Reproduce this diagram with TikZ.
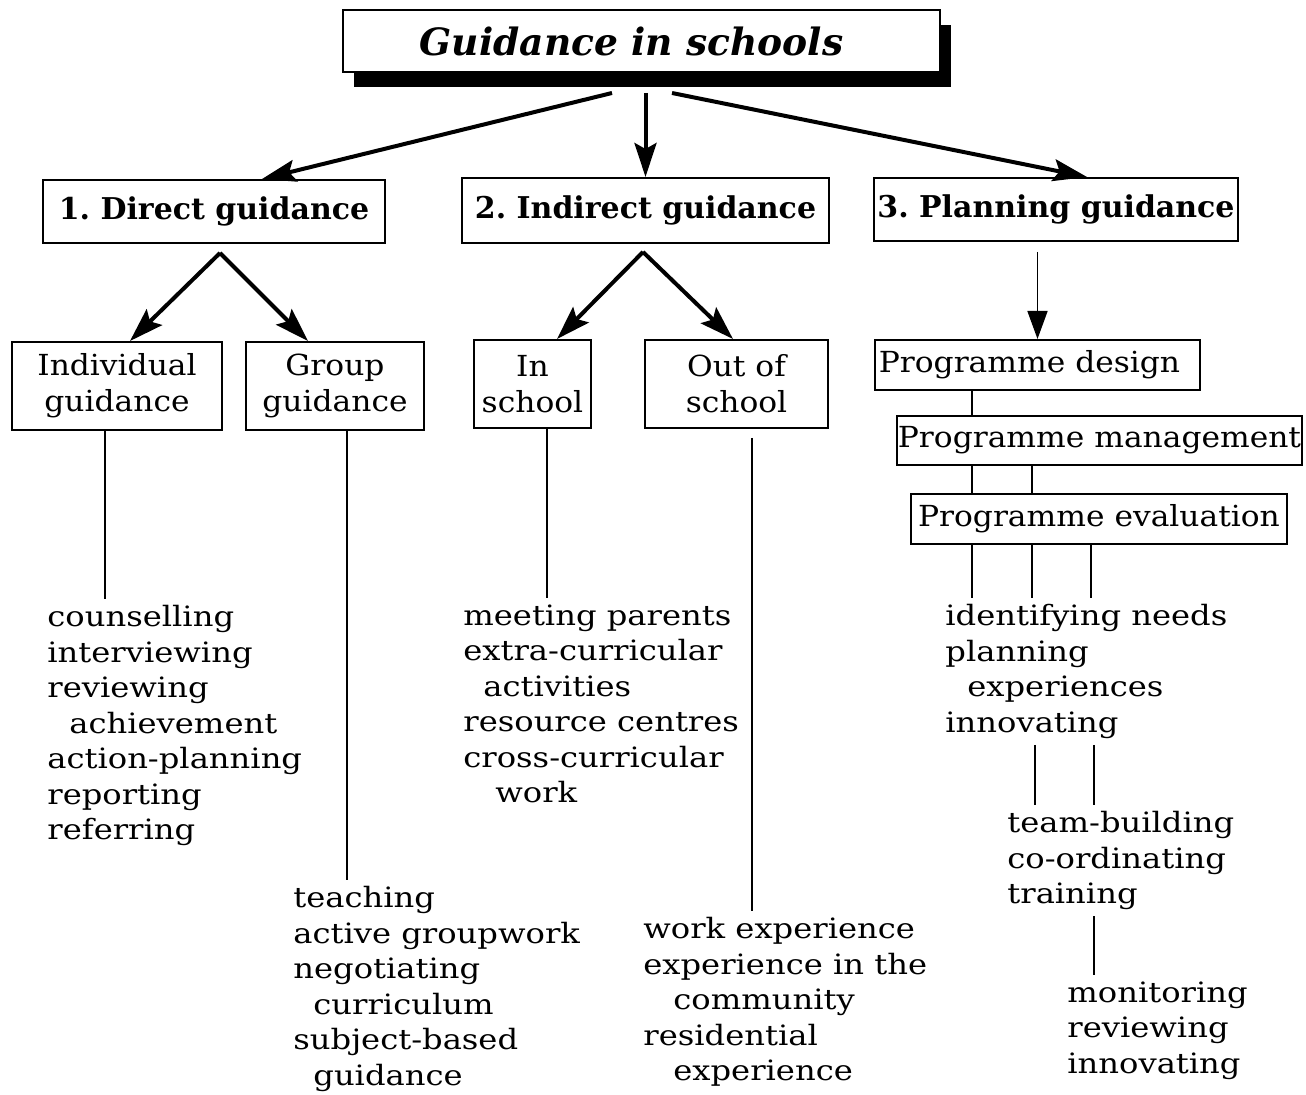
\documentclass[tikz,border=0pt]{standalone}
\usepackage{fontspec}
\setmainfont{DejaVu Serif}
\newfontfamily\widefamily{DejaVu Serif}[FakeStretch=1.15]
\newfontfamily\boxfamily{DejaVu Serif}[FakeStretch=1.08]
\usetikzlibrary{arrows.meta,shadows}

\newcommand{\titlefont}{\fontsize{18.8}{22}\selectfont\bfseries\itshape}
\newcommand{\headfont}{\fontsize{15}{18}\selectfont\bfseries}
\newcommand{\boxfont}{\boxfamily\fontsize{14.5}{18}\selectfont}
\newcommand{\listfont}{\widefamily\fontsize{14}{17.75}\selectfont}

\begin{document}
\frenchspacing
\begin{tikzpicture}[x=0.5pt,y=-0.5pt]
\tikzstyle{box} = [rectangle,draw=black,line width=1pt,inner sep=0pt,align=center,font=\boxfont]
\tikzstyle{head} = [box,font=\headfont]
\tikzstyle{list} = [anchor=north west,inner sep=0pt,align=left,font=\listfont]
\tikzstyle{branch} = [line width=2pt,-{Stealth[length=17pt,width=11pt,inset=3pt]}]
\tikzstyle{down} = [line width=0.8pt,-{Triangle[length=14pt,width=10pt]}]
\tikzstyle{stem} = [line width=1pt,shorten >=3pt]
\tikzstyle{link} = [line width=0.6pt]

\useasboundingbox (0,0) rectangle (1306,1095);

% top of the tree
\node[box,fill=white,font=\titlefont,minimum width=298.5pt,minimum height=31pt,
  drop shadow={shadow xshift=5.5pt,shadow yshift=-7.5pt,fill=black,opacity=1}]
  (title) at (641.5,41) {Guidance in schools\hspace*{10pt}};

\node[head,minimum width=171pt,minimum height=31.5pt](direct) at (214,211.5) {1. Direct guidance};
\node[head,minimum width=183.5pt,minimum height=32.5pt](indirect) at (645.5,210.5) {2. Indirect guidance};
\node[head,minimum width=182pt,minimum height=31.5pt](planning) at (1056,209.5) {3. Planning guidance};

\coordinate (t1) at (612,93);
\coordinate (t2) at (643,93);
\coordinate (t3) at (672,93);

\draw [branch] (t1) -- ([xshift=24pt]direct.north);
\draw [branch] (indirect.north |- t2) -- (indirect.north);
\draw [branch] (t3) -- ([xshift=15.5pt]planning.north);

% second level
\node[box,minimum width=105pt,minimum height=44pt](indiv) at (117,386) {Individual\\guidance};
\node[box,minimum width=89pt,minimum height=44pt](group) at (335,386) {Group\\guidance};
\node[box,minimum width=58.5pt,minimum height=44pt](inschool) at (532.5,384) {In\\school};
\node[box,minimum width=91.5pt,minimum height=44pt](outschool) at (736.5,384) {Out of\\school};

\node[box,minimum width=162.5pt,minimum height=25pt](design) at (1037.5,365) {Programme design\hspace*{8pt}};
\node[box,minimum width=202.5pt,minimum height=24.5pt](mgmt) at (1099.5,440.5) {Programme management};
\node[box,minimum width=188pt,minimum height=25pt](eval) at (1099,519) {Programme evaluation};

\coordinate (a1) at (220,253);
\coordinate (a2) at (643,252);
\coordinate (a3) at (1040,252);

\draw [branch] (a1) -- ([xshift=6.5pt]indiv.north);
\draw [branch] (a1) -- ([xshift=-13.5pt]group.north);
\draw [branch] (a2) -- ([xshift=12.25pt]inschool.north);
\draw [branch] (a2) -- ([xshift=-1.75pt]outschool.north);
\draw [down] (design.north |- a3) -- (design.north);

% lists of activities
\node[list](counsel) at (47,605) {counselling\\interviewing\\reviewing\\\hspace*{11pt}achievement\\action-planning\\reporting\\referring};
\node[list](teach) at (293,886) {teaching\\active groupwork\\negotiating\\\hspace*{10pt}curriculum\\subject-based\\\hspace*{10pt}guidance};
\node[list](meet) at (463,604) {meeting parents\\extra-curricular\\\hspace*{10pt}activities\\resource centres\\cross-curricular\\\hspace*{16pt}work};
\node[list](workexp) at (643,917) {work experience\\experience in the\\\hspace*{15pt}community\\residential\\\hspace*{15pt}experience};
\node[list](needs) at (945,604) {identifying needs\\planning\\\hspace*{11pt}experiences\\innovating};
\node[list](team) at (1007,811) {team-building\\co-ordinating\\training};
\node[list](monitor) at (1067,981) {monitoring\\reviewing\\innovating};

\draw [stem] ([xshift=-6pt]indiv.south) -- ([xshift=-6pt]indiv.south |- counsel.north);
\draw [stem] ([xshift=6pt]group.south) -- ([xshift=6pt]group.south |- teach.north);
\draw [stem] ([xshift=7.25pt]inschool.south) -- ([xshift=7.25pt]inschool.south |- meet.north);
\draw [stem,shorten <=4.5pt] ([xshift=7.75pt]outschool.south) -- ([xshift=7.75pt]outschool.south |- workexp.north);

\coordinate (p1) at (972,0);
\coordinate (p2) at (1032,0);
\coordinate (p3) at (1091,0);
\coordinate (p4) at (1035,0);
\coordinate (p5) at (1094,0);

\draw [link] (design.south -| p1) -- (mgmt.north -| p1);
\draw [link] (mgmt.south -| p1) -- (eval.north -| p1);
\draw [link] (mgmt.south -| p2) -- (eval.north -| p2);
\draw [stem] (eval.south -| p1) -- (needs.north -| p1);
\draw [stem] (eval.south -| p2) -- (needs.north -| p2);
\draw [stem] (eval.south -| p3) -- (needs.north -| p3);
\draw [stem,shorten <=3pt] (needs.south -| p4) -- (team.north -| p4);
\draw [stem,shorten <=3pt] (needs.south -| p5) -- (team.north -| p5);
\draw [stem,shorten <=3pt] (team.south -| p5) -- (monitor.north -| p5);

\end{tikzpicture}
\end{document}
